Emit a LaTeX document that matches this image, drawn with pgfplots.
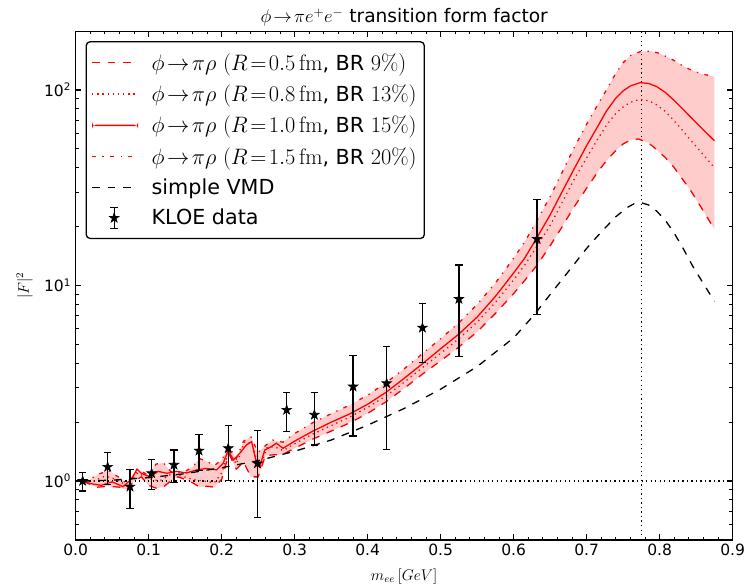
\documentclass[border=0pt]{standalone}
\usepackage[no-math]{fontspec}
\setmainfont{DejaVu Sans}
\usepackage{pgfplots}
\pgfplotsset{compat=1.18}
\usepackage{pgfplotstable}
\usepgfplotslibrary{fillbetween}

\pgfdeclareplotmark{fstar}{%
  \pgfpathmoveto{\pgfpointpolar{90}{1.3\pgfplotmarksize}}%
  \pgfpathlineto{\pgfpointpolar{126}{0.5\pgfplotmarksize}}%
  \pgfpathlineto{\pgfpointpolar{162}{1.3\pgfplotmarksize}}%
  \pgfpathlineto{\pgfpointpolar{198}{0.5\pgfplotmarksize}}%
  \pgfpathlineto{\pgfpointpolar{234}{1.3\pgfplotmarksize}}%
  \pgfpathlineto{\pgfpointpolar{270}{0.5\pgfplotmarksize}}%
  \pgfpathlineto{\pgfpointpolar{306}{1.3\pgfplotmarksize}}%
  \pgfpathlineto{\pgfpointpolar{342}{0.5\pgfplotmarksize}}%
  \pgfpathlineto{\pgfpointpolar{18}{1.3\pgfplotmarksize}}%
  \pgfpathlineto{\pgfpointpolar{54}{0.5\pgfplotmarksize}}%
  \pgfpathclose
  \pgfusepathqfillstroke}

% R = 1.0 fm (solid)
\pgfplotstableread{
x y
0.010 1.00
0.020 0.97
0.035 0.95
0.050 0.99
0.065 0.935
0.077 1.03
0.084 1.15
0.090 1.095
0.102 1.05
0.113 1.12
0.125 1.095
0.138 1.12
0.152 1.10
0.166 1.14
0.179 1.16
0.193 1.14
0.202 1.23
0.209 1.44
0.216 1.28
0.225 1.39
0.234 1.53
0.241 1.59
0.248 1.22
0.252 1.18
0.259 1.44
0.268 1.50
0.275 1.56
0.284 1.47
0.300 1.60
0.325 1.80
0.350 2.00
0.375 2.20
0.400 2.47
0.425 2.84
0.450 3.35
0.475 3.98
0.500 4.75
0.525 5.65
0.550 6.9
0.575 8.8
0.600 11.6
0.615 13.8
0.632 17.6
0.650 23.0
0.665 29.5
0.682 39.0
0.700 52
0.715 65
0.727 78
0.740 91
0.750 99
0.760 105
0.773 109
0.785 108
0.796 104
0.808 97
0.819 89
0.830 81
0.842 73
0.857 64
0.875 55
}\tabSolid

% R = 1.5 fm (dash-dot, upper edge)
\pgfplotstableread{
x y
0.010 1.00
0.020 1.02
0.030 1.08
0.045 1.13
0.060 1.04
0.070 0.97
0.080 1.10
0.090 1.12
0.100 1.07
0.110 1.22
0.120 1.24
0.130 1.12
0.140 1.10
0.150 1.12
0.160 1.18
0.170 1.30
0.180 1.26
0.190 1.20
0.200 1.28
0.210 1.50
0.220 1.30
0.230 1.60
0.240 1.68
0.250 1.40
0.260 1.52
0.270 1.62
0.284 1.58
0.300 1.75
0.325 1.99
0.350 2.21
0.375 2.44
0.400 2.75
0.425 3.18
0.450 3.75
0.475 4.48
0.500 5.35
0.525 6.45
0.550 8.0
0.575 10.3
0.600 13.8
0.615 16.7
0.632 21.5
0.650 28.5
0.665 37
0.682 50
0.700 67
0.715 84
0.727 100
0.740 122
0.750 138
0.760 150
0.773 157
0.787 158
0.800 154
0.819 142
0.830 134
0.842 127
0.857 121
0.875 117
}\tabUp

% R = 0.5 fm (dashed, lower edge)
\pgfplotstableread{
x y
0.010 1.00
0.020 0.96
0.030 0.93
0.045 0.94
0.060 0.93
0.070 0.90
0.080 1.00
0.090 1.05
0.100 0.95
0.110 0.92
0.120 0.93
0.130 1.00
0.140 1.05
0.150 1.02
0.160 0.98
0.170 0.93
0.180 0.94
0.190 0.93
0.200 1.02
0.210 1.38
0.220 1.15
0.230 1.25
0.240 1.05
0.250 1.05
0.260 1.35
0.270 1.36
0.284 1.37
0.300 1.47
0.325 1.64
0.350 1.80
0.375 1.98
0.400 2.22
0.425 2.54
0.450 2.98
0.475 3.52
0.500 4.12
0.525 4.85
0.550 5.8
0.575 7.2
0.600 9.1
0.615 10.6
0.632 12.7
0.650 16.0
0.665 19.6
0.682 25.0
0.700 31.5
0.715 38
0.727 43.5
0.740 49
0.750 53
0.760 55.5
0.771 56.2
0.785 53.5
0.796 49.5
0.808 45
0.819 40.5
0.830 35.5
0.842 30.8
0.857 25
0.875 19.4
}\tabLo

% R = 0.8 fm (dotted)
\pgfplotstableread{
x y
0.010 1.00
0.025 1.00
0.040 1.06
0.055 1.02
0.070 0.95
0.085 1.10
0.100 1.03
0.115 1.00
0.130 1.08
0.145 1.06
0.160 1.02
0.175 1.00
0.190 0.98
0.200 1.10
0.210 1.42
0.220 1.22
0.232 1.60
0.242 1.52
0.252 1.15
0.262 1.48
0.272 1.50
0.284 1.43
0.300 1.55
0.325 1.74
0.350 1.92
0.375 2.12
0.400 2.38
0.425 2.72
0.450 3.2
0.475 3.8
0.500 4.5
0.525 5.35
0.550 6.5
0.575 8.2
0.600 10.7
0.615 12.7
0.632 15.9
0.650 20.3
0.665 26
0.682 34.5
0.700 45
0.715 56
0.727 66
0.740 76
0.750 82
0.760 86.5
0.773 89.6
0.785 88
0.796 84
0.808 77.5
0.819 70
0.830 63
0.842 55.5
0.857 48
0.875 40
}\tabDot

% simple VMD
\pgfplotstableread{
x y
0.010 1.00
0.050 1.01
0.100 1.04
0.150 1.09
0.200 1.17
0.250 1.27
0.300 1.42
0.350 1.62
0.400 1.93
0.450 2.35
0.500 2.95
0.550 3.85
0.600 5.4
0.627 7.0
0.650 9.0
0.675 11.8
0.700 15.5
0.720 18.8
0.740 22.5
0.755 25.0
0.765 26.2
0.775 26.5
0.785 25.8
0.796 24.0
0.808 21.5
0.820 18.5
0.832 15.5
0.845 12.6
0.860 10.2
0.875 8.3
}\tabVmd

% KLOE data
\pgfplotstableread{
x y e
0.0096 1.00 0.11
0.0438 1.18 0.22
0.0744 0.935 0.21
0.104 1.095 0.19
0.1347 1.21 0.23
0.169 1.43 0.30
0.209 1.47 0.46
0.249 1.23 0.58
0.289 2.31 0.52
0.327 2.18 0.65
0.380 3.04 1.34
0.426 3.16 1.71
0.475 6.08 2.03
0.525 8.53 4.2
0.632 17.3 10.2
}\tabKloe

\begin{document}
\begin{tikzpicture}
\begin{axis}[
  scale only axis, width=508pt, height=393.3pt,
  at={(0,0)}, anchor=south west,
  xmin=0, xmax=0.9, ymode=log, ymin=0.5, ymax=200,
  xtick={0,0.1,0.2,0.3,0.4,0.5,0.6,0.7,0.8,0.9},
  xticklabels={0.0,0.1,0.2,0.3,0.4,0.5,0.6,0.7,0.8,0.9},
  minor x tick num=4,
  ytick={1,10,100},
  yticklabels={10\textsuperscript{0},10\textsuperscript{1},10\textsuperscript{2}},
  minor ytick={0.5,0.6,0.7,0.8,0.9,2,3,4,5,6,7,8,9,20,30,40,50,60,70,80,90,200},
  tick label style={font=\fontsize{12}{14}\selectfont, black},
  major tick length=4.5pt, minor tick length=2.5pt,
  tick style={black, line width=0.8pt},
  axis line style={line width=1pt},
  title={$\phi\!\rightarrow\!\pi e^+e^-$ transition form factor},
  title style={font=\fontsize{14.4}{17}\selectfont, yshift=-6pt},
  xlabel={$m_{ee}\,[GeV]$},
  ylabel={$|F|^2$},
  xlabel style={font=\fontsize{12}{14}\selectfont, yshift=-3pt},
  ylabel style={font=\fontsize{12}{14}\selectfont, yshift=2pt},
  legend cell align=left,
  legend style={at={(0,1)}, anchor=north west,
    xshift=7.7pt, yshift=-7.7pt, rounded corners=3pt, draw=black,
    line width=1pt, font=\fontsize{16}{18}\selectfont, row sep=5.8pt,
    inner xsep=4pt, inner ysep=7pt,
    /tikz/every odd column/.append style={column sep=8pt}},
]
\addplot[draw=none, forget plot, name path=up] table {\tabUp};
\addplot[draw=none, forget plot, name path=lo] table {\tabLo};
\addplot[fill=red!20, draw=none, forget plot] fill between[of=up and lo];

\addplot[black, line width=1pt, dash pattern=on 1pt off 2.5pt, forget plot] coordinates {(0,1) (0.9,1)};
\addplot[black, line width=1pt, dash pattern=on 1pt off 2.5pt, forget plot] coordinates {(0.775,0.5) (0.775,200)};

\addplot[red, line width=1pt, dash pattern=on 6pt off 6pt,
  legend image code/.code={\draw[color=red, line width=1pt, dash pattern=on 6pt off 6pt] (0cm,0cm) -- (1.25cm,0cm);}]
  table {\tabLo};
\addlegendentry{$\phi\!\rightarrow\!\pi\rho\ (R\!=\!0.5\,\mathrm{fm}$, BR $9\%)$}
\addplot[red, line width=1pt, dash pattern=on 1pt off 3pt,
  legend image code/.code={\draw[color=red, line width=1pt, dash pattern=on 1pt off 3pt] (0cm,0cm) -- (1.25cm,0cm);}]
  table {\tabDot};
\addlegendentry{$\phi\!\rightarrow\!\pi\rho\ (R\!=\!0.8\,\mathrm{fm}$, BR $13\%)$}
\addplot[red, line width=1pt,
  legend image code/.code={\fill[red, draw=none] (0cm,-0.6pt) rectangle (1.25cm,0.6pt);}]
  table {\tabSolid};
\addlegendentry{$\phi\!\rightarrow\!\pi\rho\ (R\!=\!1.0\,\mathrm{fm}$, BR $15\%)$}
\addplot[red, line width=1pt, dash pattern=on 3pt off 5pt on 1pt off 5pt,
  legend image code/.code={\draw[color=red, line width=1pt, dash pattern=on 3pt off 5pt on 1pt off 5pt] (0cm,0cm) -- (1.25cm,0cm);}]
  table {\tabUp};
\addlegendentry{$\phi\!\rightarrow\!\pi\rho\ (R\!=\!1.5\,\mathrm{fm}$, BR $20\%)$}
\addplot[black, line width=1pt, dash pattern=on 6pt off 6pt,
  legend image code/.code={\draw[color=black, line width=1pt, dash pattern=on 6pt off 6pt] (0cm,0cm) -- (1.25cm,0cm);}]
  table {\tabVmd};
\addlegendentry{simple VMD}
\addplot[black, only marks, mark=fstar, mark size=3pt, mark options={fill=black, line width=0.5pt},
  legend image code/.code={%
    \draw[black, line width=1pt, solid] (0.6cm,-0.28cm) -- (0.6cm,0.28cm)
       (0.5cm,-0.28cm) -- (0.7cm,-0.28cm) (0.5cm,0.28cm) -- (0.7cm,0.28cm);
    \begin{scope}[shift={(0.6cm,0cm)}]
      \pgfsetfillcolor{black}\pgfsetstrokecolor{black}\pgfsetlinewidth{0.5pt}%
      \pgfsetplotmarksize{3pt}\pgfuseplotmark{fstar}%
    \end{scope}},
  error bars/.cd, y dir=both, y explicit,
  error bar style={black, line width=1pt},
  error mark options={black, line width=1pt, mark size=2.8pt, rotate=90}]
  table[x=x, y=y, y error=e] {\tabKloe};
\addlegendentry{KLOE data}
\end{axis}
\pgfresetboundingbox
\path[use as bounding box] (-58.5pt,-36.5pt) rectangle (517.5pt,417.4pt);
\end{tikzpicture}
\end{document}
